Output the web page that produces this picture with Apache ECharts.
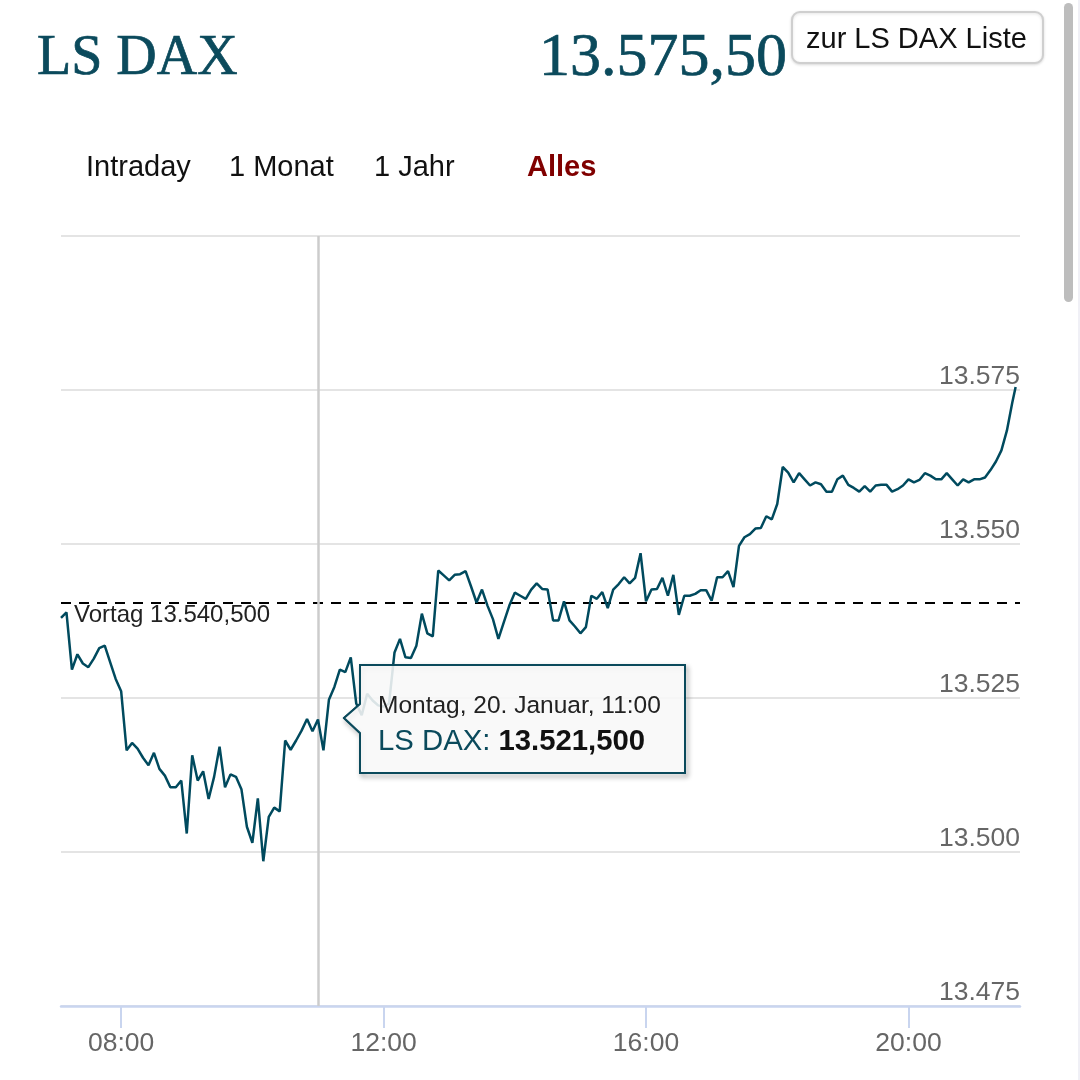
<!DOCTYPE html>
<html><head><meta charset="utf-8">
<style>html,body{margin:0;padding:0;background:#fff}#c{width:1080px;height:1080px}</style>
<script src="https://cdn.jsdelivr.net/npm/echarts@6/dist/echarts.min.js"></script>
</head><body><div id="c"></div>
<script>
// minutes after midnight
const times = [425,430,435,440,445,450,455,460,465,470,475,480,485,490,495,500,505,510,515,520,525,530,535,540,
545,550,555,560,565,570,575,580,585,590,595,600,605,610,615,620,625,630,635,640,645,650,655,660,
665,670,675,680,685,690,695,700,705,710,715,720,725,730,735,740,745,750,755,760,765,770,775,780,
785,790,795,800,805,810,815,820,825,830,835,840,845,850,855,860,865,870,875,880,885,890,895,900,
905,910,915,920,925,930,935,940,945,950,955,960,965,970,975,980,985,990,995,1000,1005,1010,1015,1020,
1025,1030,1035,1040,1045,1050,1055,1060,1065,1070,1075,1080,1085,1090,1095,1100,1105,1110,1115,1120,
1125,1130,1135,1140,1145,1150,1155,1160,1165,1170,1175,1180,1185,1190,1195,1200,1205,1210,1215,1220,
1225,1230,1235,1240,1245,1250,1255,1260,1265,1270,1275,1280,1285,1290,1295,1298];
const prices = [13538.0,13538.9,13529.6,13532.1,13530.6,13530.0,13531.4,13533.1,13533.5,13530.8,13528.1,13526.1,
13516.5,13517.7,13516.8,13515.3,13514.1,13516.1,13513.5,13512.4,13510.5,13510.5,13511.6,13503.0,
13515.7,13511.6,13513.1,13508.6,13512.2,13517.1,13510.5,13512.6,13512.2,13510.2,13504.1,13501.5,
13508.7,13498.5,13505.7,13507.2,13506.6,13518.1,13516.6,13518.1,13519.7,13521.6,13519.6,13521.5,
13516.5,13524.7,13526.8,13529.6,13529.2,13531.6,13524.1,13522.2,13525.7,13524.6,13523.8,13523.6,13524.1,13532.4,
13534.6,13531.6,13531.5,13533.5,13538.7,13535.5,13535.0,13545.7,13544.9,13544.1,
13545.0,13545.1,13545.6,13543.1,13540.5,13542.6,13540.0,13537.8,13534.6,13537.3,13540.0,13542.1,
13541.6,13541.1,13542.6,13543.6,13542.7,13542.6,13537.6,13537.6,13540.7,13537.6,13536.6,13535.5,
13536.5,13541.6,13541.1,13542.2,13539.6,13542.6,13543.5,13544.6,13543.6,13544.5,13548.5,13540.7,
13542.6,13542.7,13544.5,13541.6,13545.0,13538.5,13541.6,13541.6,13541.9,13542.5,13542.5,13540.8,
13544.6,13544.6,13545.6,13543.0,13549.7,13551.1,13551.6,13552.5,13552.6,13554.5,13554.0,13556.5,
13562.5,13561.6,13560.0,13561.5,13560.5,13559.5,13560.0,13559.7,13558.5,13558.5,13560.5,13561.1,
13559.6,13559.1,13558.5,13559.4,13558.5,13559.5,13559.6,13559.6,13558.5,13558.9,13559.5,13560.5,
13560.0,13560.4,13561.5,13561.1,13560.5,13560.5,13561.5,13560.5,13559.5,13560.5,13560.0,13560.5,
13560.5,13560.8,13562.0,13563.4,13565.2,13568.4,13573.0,13575.5];
const xTicks = [480,720,960,1200];
const xTickLabels = ['08:00','12:00','16:00','20:00'];
const yMin = 13475, yMax = 13600, yStep = 25;
const previousClose = 13540.5;
const hoverTime = 660;
const titleText = 'LS DAX', lastText = '13.575,50', buttonText = 'zur LS DAX Liste';
const navItems = ['Intraday','1 Monat','1 Jahr','Alles'];
const vortagText = 'Vortag 13.540,500';
const tipDate = 'Montag, 20. Januar, 11:00', tipName = 'LS DAX: ', tipValue = '13.521,500';

const teal = '#0b4a5c', sans = '"Liberation Sans", Arial, sans-serif', serif = '"Liberation Serif", serif';
const fmtY = v => String(v).replace(/(\d\d)(\d{3})$/, '$1.$2');
const chart = echarts.init(document.getElementById('c'), null, {renderer:'canvas'});
const txt = (x,y,text,size,fill,family,extra) => ({type:'text',z:100,x,y,style:Object.assign({text,fontSize:size,fill,fontFamily:family,verticalAlign:'middle'},extra||{})});
const tipPoints = [[360,665],[685,665],[685,773],[360,773],[360,733],[344,718],[360,704]];
chart.setOption({
  animation:false,
  backgroundColor:'#fff',
  grid:{left:61,top:236,width:959,height:770,containLabel:false},
  xAxis:{type:'value',min:425,max:1302,
    splitLine:{show:false},
    axisLine:{show:true,onZero:false,lineStyle:{color:'#c9d5ef',width:2.5}},
    axisTick:{show:true,customValues:xTicks,length:22,lineStyle:{color:'#c9d5ef',width:2}},
    axisLabel:{show:true,customValues:xTicks,margin:24,fontSize:26.5,color:'#666',fontFamily:sans,
      formatter:v=>xTickLabels[xTicks.indexOf(v)],hideOverlap:false}},
  yAxis:{type:'value',min:yMin,max:yMax,interval:yStep,position:'right',
    axisLine:{show:false},axisTick:{show:false},
    splitLine:{show:true,lineStyle:{color:'#e4e4e4',width:2}},
    axisLabel:{inside:true,margin:0,fontSize:26.5,color:'#666',fontFamily:sans,align:'right',verticalAlign:'bottom',
      showMinLabel:true,showMaxLabel:true,formatter:v=>v===yMax?'':fmtY(v)}},
  series:[{type:'line',z:5,showSymbol:false,symbol:'none',smooth:false,
    data:times.map((t,i)=>[t,prices[i]]),
    lineStyle:{color:'#004a5e',width:2.5},
    markLine:{silent:true,symbol:'none',animation:false,data:[
      {yAxis:previousClose,lineStyle:{color:'#000',type:[10,8],width:2},
       label:{show:true,position:'insideStartBottom',formatter:vortagText,fontSize:24,color:'#222',fontFamily:sans,distance:[13,1]}},
      {xAxis:hoverTime,lineStyle:{color:'#cccccc',type:'solid',width:2.5},label:{show:false}}
    ]}
  }],
  graphic:[
    txt(37,59,titleText,56,teal,serif,{stroke:teal,lineWidth:0.7}),
    txt(539,59,lastText,62,teal,serif,{stroke:teal,lineWidth:0.7}),
    {type:'rect',z:100,shape:{x:792,y:12,width:251,height:51,r:8},style:{fill:'#fff',stroke:'#cfcfcf',lineWidth:2,shadowColor:'rgba(0,0,0,.12)',shadowBlur:3,shadowOffsetY:1}},
    txt(806,40,buttonText,29,'#111',sans),
    txt(86,168,navItems[0],29,'#111',sans),
    txt(229,168,navItems[1],29,'#111',sans),
    txt(374,168,navItems[2],29,'#111',sans),
    txt(527,168,navItems[3],29,'#800000',sans,{fontWeight:'bold'}),
    {type:'rect',z:100,shape:{x:1064,y:3,width:9,height:299,r:4.5},style:{fill:'#bdbdbd'}},
    {type:'rect',z:100,shape:{x:1078,y:0,width:2,height:1080},style:{fill:'#f0f0f6'}},
    {type:'polygon',z:100,shape:{points:tipPoints},
      style:{fill:'none',stroke:'#0b4a5c',lineWidth:2,shadowColor:'rgba(0,0,0,.45)',shadowBlur:5,shadowOffsetX:2,shadowOffsetY:3}},
    {type:'polygon',z:101,shape:{points:tipPoints},
      style:{fill:'rgba(248,248,248,.88)',stroke:'#0b4a5c',lineWidth:2,lineJoin:'round'}},
    {type:'text',z:102,x:378,y:706,style:{text:tipDate,fontSize:24.5,fill:'#222',fontFamily:sans,verticalAlign:'middle'}},
    {type:'text',z:102,x:378,y:742,style:{rich:{a:{fontSize:29.3,fill:teal,fontFamily:sans},b:{fontSize:29.3,fill:'#111',fontWeight:'bold',fontFamily:sans}},
      text:'{a|'+tipName+'}{b|'+tipValue+'}',verticalAlign:'middle'}}
  ]
});
</script></body></html>
